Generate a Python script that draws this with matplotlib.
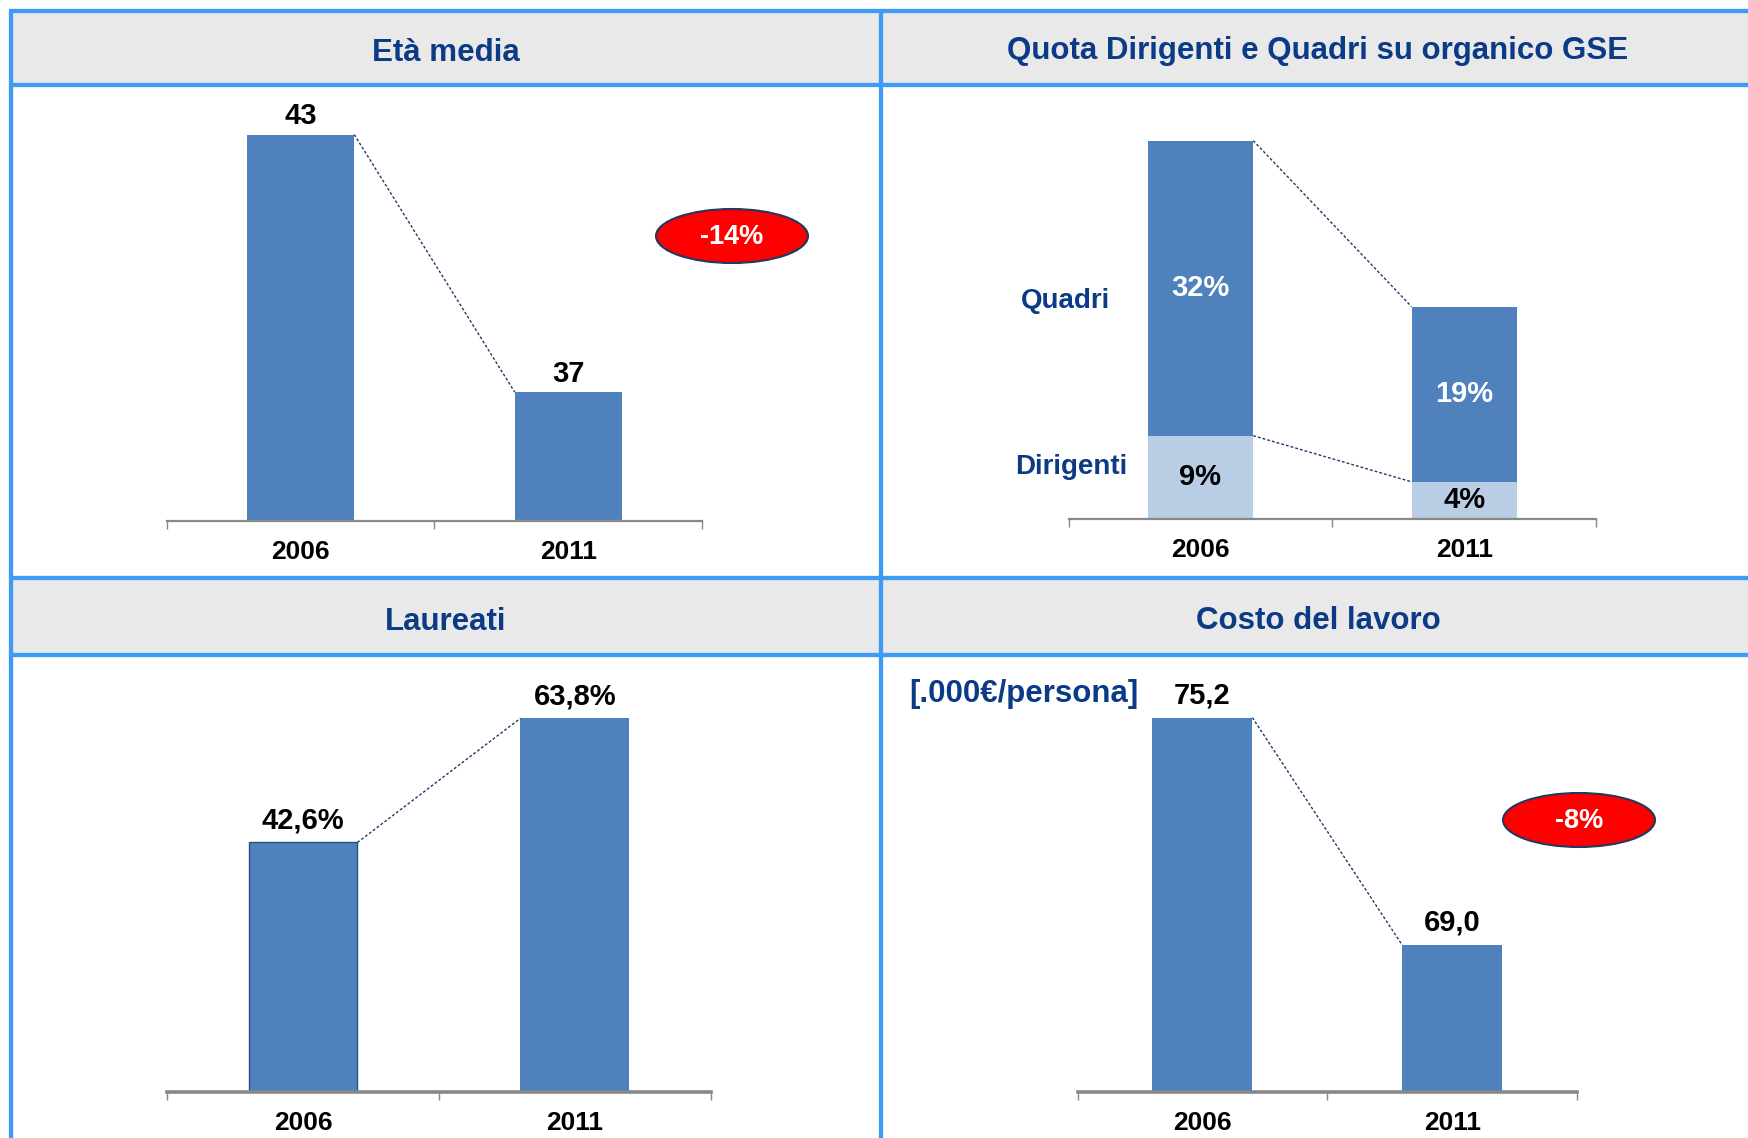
import matplotlib
matplotlib.use('Agg')
import matplotlib.pyplot as plt
from matplotlib.patches import Rectangle, Ellipse

plt.rcParams['font.family'] = ['Liberation Sans', 'DejaVu Sans']
plt.rcParams['font.weight'] = 'bold'

# data
years = ['2006', '2011']
eta_media = [43, 37]
quadri = [32, 19]
dirigenti = [9, 4]
laureati = [42.6, 63.8]
costo = [75.2, 69.0]
eta_delta = '-14%'
costo_delta = '-8%'

W, H = 1749, 1138
BAR = '#4F81BD'
BAR_LIGHT = '#B9CDE5'
NAVY = '#0B3A86'
FRAME = '#3D9BF5'
HEAD_BG = '#E9E9E9'
AXIS_GREY = '#888888'
DASH = '#1F3864'
W_BAR = 0.4

fig = plt.figure(figsize=(W / 100, H / 100), dpi=100)
fig.patch.set_facecolor('white')

# background layer in pixel coordinates
bg = fig.add_axes([0, 0, 1, 1])
bg.set_xlim(0, W)
bg.set_ylim(H, 0)
bg.axis('off')

bg.add_patch(Rectangle((11, 11), W - 11, 74, color=HEAD_BG, zorder=0))
bg.add_patch(Rectangle((11, 578), W - 11, 77, color=HEAD_BG, zorder=0))
for y in [11, 85, 578, 655]:
    bg.plot([9, W], [y, y], color=FRAME, lw=3.1, solid_capstyle='butt')
for x in [11, 881]:
    bg.plot([x, x], [11, H], color=FRAME, lw=3.1, solid_capstyle='butt')

title_kw = dict(ha='center', va='center', fontsize=22.5, color=NAVY, fontweight='bold')
bg.text(446, 53, 'Età media', **title_kw)
bg.text(1318, 51, 'Quota Dirigenti e Quadri su organico GSE', **title_kw)
bg.text(446, 622, 'Laureati', **title_kw)
bg.text(1318, 621, 'Costo del lavoro', **title_kw)
bg.text(1024, 694, '[.000€/persona]', ha='center', va='center', fontsize=22.5,
        color=NAVY, fontweight='bold')


def badge(x, y, txt):
    bg.add_patch(Ellipse((x, y), 152, 54, facecolor='#FF0000', edgecolor=DASH, lw=1.5, zorder=3))
    bg.text(x, y + 1, txt, ha='center', va='center', fontsize=19.5, color='white',
            fontweight='bold', zorder=4)


badge(732, 236, eta_delta)
badge(1579, 820, costo_delta)


def make_axes(left, right, bottom, ylim, px_per_unit, spine_lw):
    top = bottom - (ylim[1] - ylim[0]) * px_per_unit
    ax = fig.add_axes([left / W, (H - bottom) / H, (right - left) / W, (bottom - top) / H])
    ax.set_facecolor('none')
    ax.set_xlim(-0.5, 1.5)
    ax.set_ylim(*ylim)
    for s in ['top', 'right', 'left']:
        ax.spines[s].set_visible(False)
    ax.spines['bottom'].set_color(AXIS_GREY)
    ax.spines['bottom'].set_linewidth(spine_lw)
    ax.set_yticks([])
    ax.set_xticks([0, 1])
    ax.set_xticklabels(years, fontsize=19, fontweight='bold')
    ax.set_xticks([-0.5, 0.5, 1.5], minor=True)
    ax.tick_params(axis='x', which='major', length=0, pad=14)
    ax.tick_params(axis='x', which='minor', length=6, width=1, color=AXIS_GREY, direction='out')
    return ax


def connect(ax, y0, y1):
    ax.plot([W_BAR / 2, 1 - W_BAR / 2], [y0, y1], color=DASH, lw=1,
            linestyle=(0, (2, 1.5)), zorder=3)


def value_labels(ax, vals, fmt, offset=16):
    for i, v in enumerate(vals):
        ax.annotate(fmt(v), (i, v), xytext=(0, offset), textcoords='offset points',
                    ha='center', va='center', fontsize=21, fontweight='bold', color='black')


# Età media
ax1 = make_axes(167, 702, 521, (34, 44), 42.94, 1.6)
ax1.bar([0, 1], eta_media, width=W_BAR, color=BAR, zorder=2)
connect(ax1, eta_media[0], eta_media[1])
value_labels(ax1, eta_media, lambda v: f'{v}', offset=13)

# Quota Dirigenti e Quadri
ax2 = make_axes(1068.6, 1596.2, 518.7, (0, 45), 9.22, 1.6)
ax2.bar([0, 1], dirigenti, width=W_BAR, color=BAR_LIGHT, zorder=2)
ax2.bar([0, 1], quadri, width=W_BAR, bottom=dirigenti, color=BAR, zorder=2)
tot = [d + q for d, q in zip(dirigenti, quadri)]
connect(ax2, tot[0], tot[1])
connect(ax2, dirigenti[0], dirigenti[1])
for i in range(2):
    ax2.text(i, dirigenti[i] + quadri[i] / 2, f'{quadri[i]}%', ha='center', va='center',
             fontsize=21, fontweight='bold', color='white', zorder=4)
    ax2.text(i, dirigenti[i] / 2, f'{dirigenti[i]}%', ha='center', va='center',
             fontsize=21, fontweight='bold', color='black', zorder=4)
ax2.text(-0.51, 23.6, 'Quadri', ha='center', va='center', fontsize=20,
         fontweight='bold', color=NAVY)
ax2.text(-0.49, 5.6, 'Dirigenti', ha='center', va='center', fontsize=20,
         fontweight='bold', color=NAVY)

# Laureati
ax3 = make_axes(167.3, 710.5, 1092, (0, 70), 5.857, 2.6)
bars3 = ax3.bar([0, 1], laureati, width=W_BAR, color=BAR, zorder=2)
bars3[0].set_edgecolor('#2E4F7A')
bars3[0].set_linewidth(1)
connect(ax3, laureati[0], laureati[1])
value_labels(ax3, laureati, lambda v: f'{v:.1f}%'.replace('.', ','))

# Costo del lavoro
ax4 = make_axes(1077.5, 1577.2, 1092, (65, 77), 36.7, 2.6)
ax4.bar([0, 1], costo, width=W_BAR, color=BAR, zorder=2)
connect(ax4, costo[0], costo[1])
value_labels(ax4, costo, lambda v: f'{v:.1f}'.replace('.', ','))

fig.savefig('out.png', dpi=100)
